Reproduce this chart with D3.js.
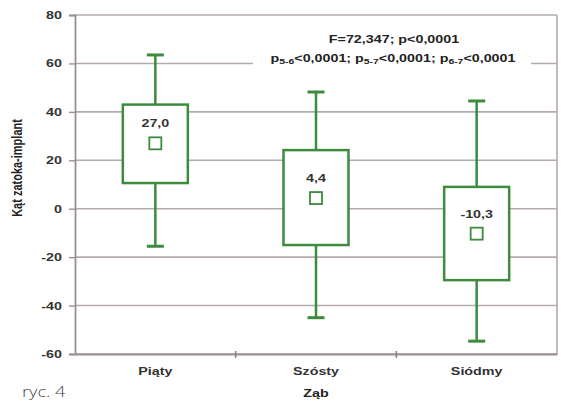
<!DOCTYPE html>
<html>
<head>
<meta charset="utf-8">
<script src="https://cdn.jsdelivr.net/npm/d3@7"></script>
<style>
  html, body { margin: 0; padding: 0; background: #fff; }
  svg { display: block; }
</style>
</head>
<body>
<svg id="chart" width="561" height="405"></svg>
<script>
// Angle between sinus floor and implant, per tooth
const categories = ["Piąty", "Szósty", "Siódmy"];
const means      = [27.0, 4.4, -10.3];
const boxLow     = [10.6, -15.0, -29.5];
const boxHigh    = [43.0, 24.2, 9.0];
const whiskerLow = [-15.5, -45.0, -54.7];
const whiskerHigh= [63.5, 48.2, 44.5];
const meanLabels = ["27,0", "4,4", "-10,3"];
const yTicks     = [80, 60, 40, 20, 0, -20, -40, -60];

const svg = d3.select("#chart");
const margin = { left: 75, right: 4, top: 15, bottom: 51 };
const W = 561, H = 405;
const green = "#3d8b3d";
const gridCol = "#b5abab";
const axisCol = "#9a9090";
const textCol = "#333";
const font = "Liberation Sans, Arial, sans-serif";
const SX = 1.3; // horizontal stretch of the lettering

const x = d3.scaleBand().domain(categories).range([margin.left, W - margin.right]).padding(0);
const y = d3.scaleLinear().domain([-60, 80]).range([H - margin.bottom, margin.top]);

// stretched text placed at (px, py)
function label(parent, px, py, txt, opts = {}) {
  const t = parent.append("text")
    .attr("transform", `translate(${px},${py}) scale(${SX},1)`)
    .attr("text-anchor", opts.anchor || "middle")
    .attr("font-family", opts.family || font)
    .attr("font-size", opts.size || 11)
    .attr("font-weight", opts.weight || "bold")
    .attr("fill", opts.fill || textCol);
  if (txt != null) t.text(txt);
  return t;
}

// grid lines
svg.append("g").selectAll("line").data(yTicks).join("line")
  .attr("x1", margin.left).attr("x2", W - margin.right)
  .attr("y1", d => y(d)).attr("y2", d => y(d))
  .attr("stroke", gridCol).attr("stroke-width", 1.6);

// right border
svg.append("line")
  .attr("x1", W - margin.right).attr("x2", W - margin.right)
  .attr("y1", y(80)).attr("y2", y(-60))
  .attr("stroke", gridCol).attr("stroke-width", 1.6);

// y axis
const yAxis = svg.append("g")
  .attr("transform", `translate(${margin.left},0)`)
  .call(d3.axisLeft(y).tickValues(yTicks).tickSize(6).tickFormat(d => String(d)));
yAxis.select(".domain").attr("stroke", axisCol).attr("stroke-width", 1.8);
yAxis.selectAll(".tick line").attr("stroke", axisCol).attr("stroke-width", 1.4);
yAxis.selectAll(".tick text")
  .attr("x", null)
  .attr("transform", `translate(-13,0) scale(${SX},1)`)
  .attr("font-family", font).attr("font-size", 11).attr("font-weight", "bold").attr("fill", textCol);

// x axis
const xAxis = svg.append("g")
  .attr("transform", `translate(0,${y(-60)})`)
  .call(d3.axisBottom(x).tickSize(0).tickPadding(13));
xAxis.select(".domain").attr("stroke", axisCol).attr("stroke-width", 1.8);
xAxis.selectAll(".tick text")
  .attr("transform", `scale(${SX},1)`)
  .attr("font-family", font).attr("font-size", 11).attr("font-weight", "bold").attr("fill", textCol);
// band separators on the x axis
svg.append("g").selectAll("line").data(categories.slice(1)).join("line")
  .attr("x1", d => x(d)).attr("x2", d => x(d))
  .attr("y1", y(-60) - 3).attr("y2", y(-60) + 4)
  .attr("stroke", "#8a8080").attr("stroke-width", 1.5);

// axis titles
svg.append("text")
  .attr("transform", `translate(22,168) scale(${SX},1) rotate(-90)`)
  .attr("text-anchor", "middle")
  .attr("font-family", font).attr("font-size", 11).attr("font-weight", "bold").attr("fill", "#222")
  .text("Kąt zatoka-implant");
label(svg, x("Szósty") + x.bandwidth() / 2, 397, "Ząb", { fill: "#222" });

// boxes and whiskers
const boxW = 65, capW = 17;
const g = svg.append("g").selectAll("g").data(categories).join("g")
  .attr("transform", d => `translate(${x(d) + x.bandwidth() / 2},0)`);

g.append("line")
  .attr("y1", (d, i) => y(whiskerHigh[i])).attr("y2", (d, i) => y(boxHigh[i]))
  .attr("stroke", green).attr("stroke-width", 2.5);
g.append("line")
  .attr("y1", (d, i) => y(boxLow[i])).attr("y2", (d, i) => y(whiskerLow[i]))
  .attr("stroke", green).attr("stroke-width", 2.5);
g.append("line")
  .attr("x1", -capW / 2).attr("x2", capW / 2)
  .attr("y1", (d, i) => y(whiskerHigh[i])).attr("y2", (d, i) => y(whiskerHigh[i]))
  .attr("stroke", green).attr("stroke-width", 3);
g.append("line")
  .attr("x1", -capW / 2).attr("x2", capW / 2)
  .attr("y1", (d, i) => y(whiskerLow[i])).attr("y2", (d, i) => y(whiskerLow[i]))
  .attr("stroke", green).attr("stroke-width", 3);
g.append("rect")
  .attr("x", -boxW / 2).attr("width", boxW)
  .attr("y", (d, i) => y(boxHigh[i])).attr("height", (d, i) => y(boxLow[i]) - y(boxHigh[i]))
  .attr("fill", "#fff").attr("stroke", green).attr("stroke-width", 2.5);
g.append("rect")
  .attr("x", -6).attr("width", 12)
  .attr("y", (d, i) => y(means[i]) - 6).attr("height", 12)
  .attr("fill", "#fff").attr("stroke", green).attr("stroke-width", 1.8);
g.each(function (d, i) {
  label(d3.select(this), 0, y(means[i]) - 16, meanLabels[i]);
});

// statistics annotation
svg.append("rect")
  .attr("x", 253).attr("y", 30).attr("width", 278).attr("height", 40)
  .attr("fill", "#fff");
label(svg, 394, 43, "F=72,347; p<0,0001", { fill: "#222" });
const line2 = label(svg, 393, 62, null, { fill: "#222" });
const parts = [["p", "5-6", "<0,0001; "], ["p", "5-7", "<0,0001; "], ["p", "6-7", "<0,0001"]];
parts.forEach(([a, sub, rest]) => {
  line2.append("tspan").text(a);
  line2.append("tspan").attr("font-size", 8).attr("dy", 2).text(sub);
  line2.append("tspan").attr("dy", -2).text(rest);
});

// figure caption
label(svg, 22, 397, "ryc. 4", { anchor: "start", family: "Open Sans, sans-serif", size: 14, weight: 300, fill: "#444" });
</script>
</body>
</html>
